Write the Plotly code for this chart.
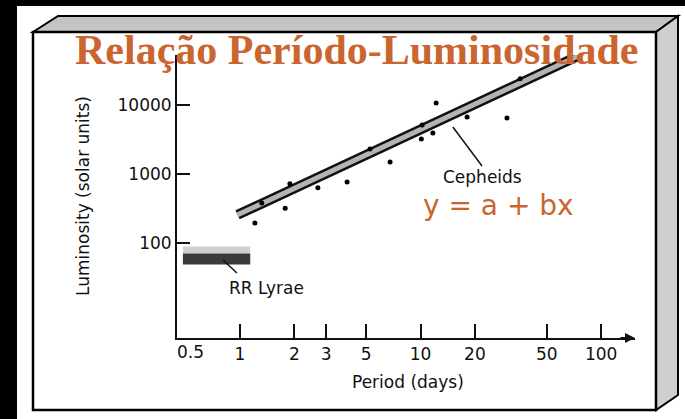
import numpy as np
import plotly.graph_objects as go

# ── Data ──────────────────────────────────────────────────────────────────────
period = [1.21, 1.32, 1.78, 1.89, 2.70, 3.92, 5.25, 6.78, 10.1, 10.2, 11.7, 12.2, 18.1, 30.1, 35.6]
lum = [195, 380, 320, 720, 630, 765, 2300, 1490, 3230, 5130, 3930, 10700, 6700, 6500, 24000]

cepheid_period = [0.97, 76.5]
cepheid_lum = [256, 53000]

rr_period = [0.483, 1.14]
rr_lum = [58.6, 58.6]
rr_halo_lum = [79, 79]

x_ticks = [1, 2, 3, 5, 10, 20, 50, 100]
x_ticktext = ["1", "2", "3", "5", "10", "20", "50", "100"]
y_ticks = [100, 1000, 10000]
y_ticktext = ["100", "1000", "10000"]

# leader lines
ceph_lead_p = [15.1, 21.9]
ceph_lead_l = [4800, 1306]
rr_lead_p = [0.805, 0.962]
rr_lead_l = [56.7, 36.7]

W, H = 685, 419
L, R, T, B = 177, 50, 55, 81
PW, PH = W - L - R, H - T - B

TXT = "DejaVu Sans"
ORANGE = "#CB6530"


def px(x, y):
    # page pixel -> paper coords
    return (x - L) / PW, (H - B - y) / PH


def path(points):
    s = ""
    for i, (x, y) in enumerate(points):
        xx, yy = px(x, y)
        s += ("M" if i == 0 else "L") + f"{xx:.4f},{yy:.4f} "
    return s + "Z"


def label(x, y, text, size=17, color="#111", family=TXT, **kw):
    xx, yy = px(x, y)
    return dict(xref="paper", yref="paper", x=xx, y=yy, showarrow=False,
                xanchor="center", yanchor="middle", text=text,
                font=dict(family=family, size=size, color=color), **kw)


fig = go.Figure()

# RR Lyrae smear
fig.add_trace(go.Scatter(x=rr_period, y=rr_halo_lum, mode="lines",
                         line=dict(color="#d0d0d0", width=7), hoverinfo="skip"))
fig.add_trace(go.Scatter(x=rr_period, y=rr_lum, mode="lines",
                         line=dict(color="#2b2b2b", width=11), opacity=0.92, hoverinfo="skip"))

# Cepheid band
fig.add_trace(go.Scatter(x=cepheid_period, y=cepheid_lum, mode="lines",
                         line=dict(color="#111", width=10), hoverinfo="skip"))
fig.add_trace(go.Scatter(x=cepheid_period, y=cepheid_lum, mode="lines",
                         line=dict(color="#b4b4b4", width=5), hoverinfo="skip"))

# leaders
fig.add_trace(go.Scatter(x=ceph_lead_p, y=ceph_lead_l, mode="lines",
                         line=dict(color="#111", width=1.5), hoverinfo="skip"))
fig.add_trace(go.Scatter(x=rr_lead_p, y=rr_lead_l, mode="lines",
                         line=dict(color="#111", width=1.5), hoverinfo="skip"))

# stars
fig.add_trace(go.Scatter(x=period, y=lum, mode="markers",
                         marker=dict(color="#000", size=5), hoverinfo="skip"))

# ── Box decoration (black page, white sheet, bevelled frame) ─────────────────
shapes = []
x0, y0 = px(17, H)
x1, y1 = px(W, 6)
shapes.append(dict(type="rect", xref="paper", yref="paper", x0=x0, y0=y0, x1=x1, y1=y1,
                   fillcolor="#fff", line=dict(width=0), layer="below"))
shapes.append(dict(type="path", xref="paper", yref="paper",
                   path=path([(33, 32), (58, 16), (678, 16), (656, 32)]),
                   fillcolor="#c4c4c4", line=dict(color="#000", width=2), layer="below"))
shapes.append(dict(type="path", xref="paper", yref="paper",
                   path=path([(656, 32), (678, 16), (678, 395), (656, 410)]),
                   fillcolor="#cfcfcf", line=dict(color="#000", width=2), layer="below"))
x0, y0 = px(33, 410)
x1, y1 = px(656, 32)
shapes.append(dict(type="rect", xref="paper", yref="paper", x0=x0, y0=y0, x1=x1, y1=y1,
                   fillcolor="#fff", line=dict(color="#000", width=2.5), layer="below"))

# ── Annotations ───────────────────────────────────────────────────────────────
ann = [
    label(357, 50, "<b>Relação Período-Luminosidade</b>", size=42, color=ORANGE,
          family="Liberation Serif"),
    label(83, 196, "Luminosity (solar units)", textangle=-90),
    label(408, 382, "Period (days)"),
    label(190, 352, "0.5"),
]
ann.append(dict(x=np.log10(21.9), y=np.log10(906), showarrow=False,
                text="Cepheids", font=dict(family=TXT, size=17, color="#111")))
ann.append(dict(x=np.log10(1.41), y=np.log10(22.3), showarrow=False,
                text="RR Lyrae", font=dict(family=TXT, size=17, color="#111")))
ann.append(dict(x=np.log10(26.9), y=np.log10(355), showarrow=False,
                text="y = a + bx", font=dict(family=TXT, size=28, color=ORANGE)))
# arrow at end of x axis
ann.append(dict(xref="paper", yref="paper", x=1, y=0, ax=-16, ay=0, text="",
                showarrow=True, arrowhead=2, arrowsize=1, arrowwidth=2, arrowcolor="#111"))

fig.update_layout(
    width=W, height=H,
    margin=dict(l=L, r=R, t=T, b=B, pad=0),
    paper_bgcolor="#000",
    plot_bgcolor="rgba(0,0,0,0)",
    showlegend=False,
    shapes=shapes,
    annotations=ann,
    xaxis=dict(type="log", range=[np.log10(0.448), np.log10(154)],
               tickvals=x_ticks, ticktext=x_ticktext,
               ticks="inside", ticklen=14, tickwidth=2, tickcolor="#111",
               showline=True, linecolor="#111", linewidth=2,
               showgrid=False, zeroline=False,
               tickfont=dict(family=TXT, size=17, color="#111")),
    yaxis=dict(type="log", range=[0.623, 4.725],
               tickvals=y_ticks, ticktext=y_ticktext,
               ticks="inside", ticklen=13, tickwidth=2, tickcolor="#111",
               showline=True, linecolor="#111", linewidth=2,
               showgrid=False, zeroline=False,
               tickfont=dict(family=TXT, size=17, color="#111")),
)

fig.write_html("out.html", config={"displayModeBar": False},
               post_script="document.body.style.margin='0';")
